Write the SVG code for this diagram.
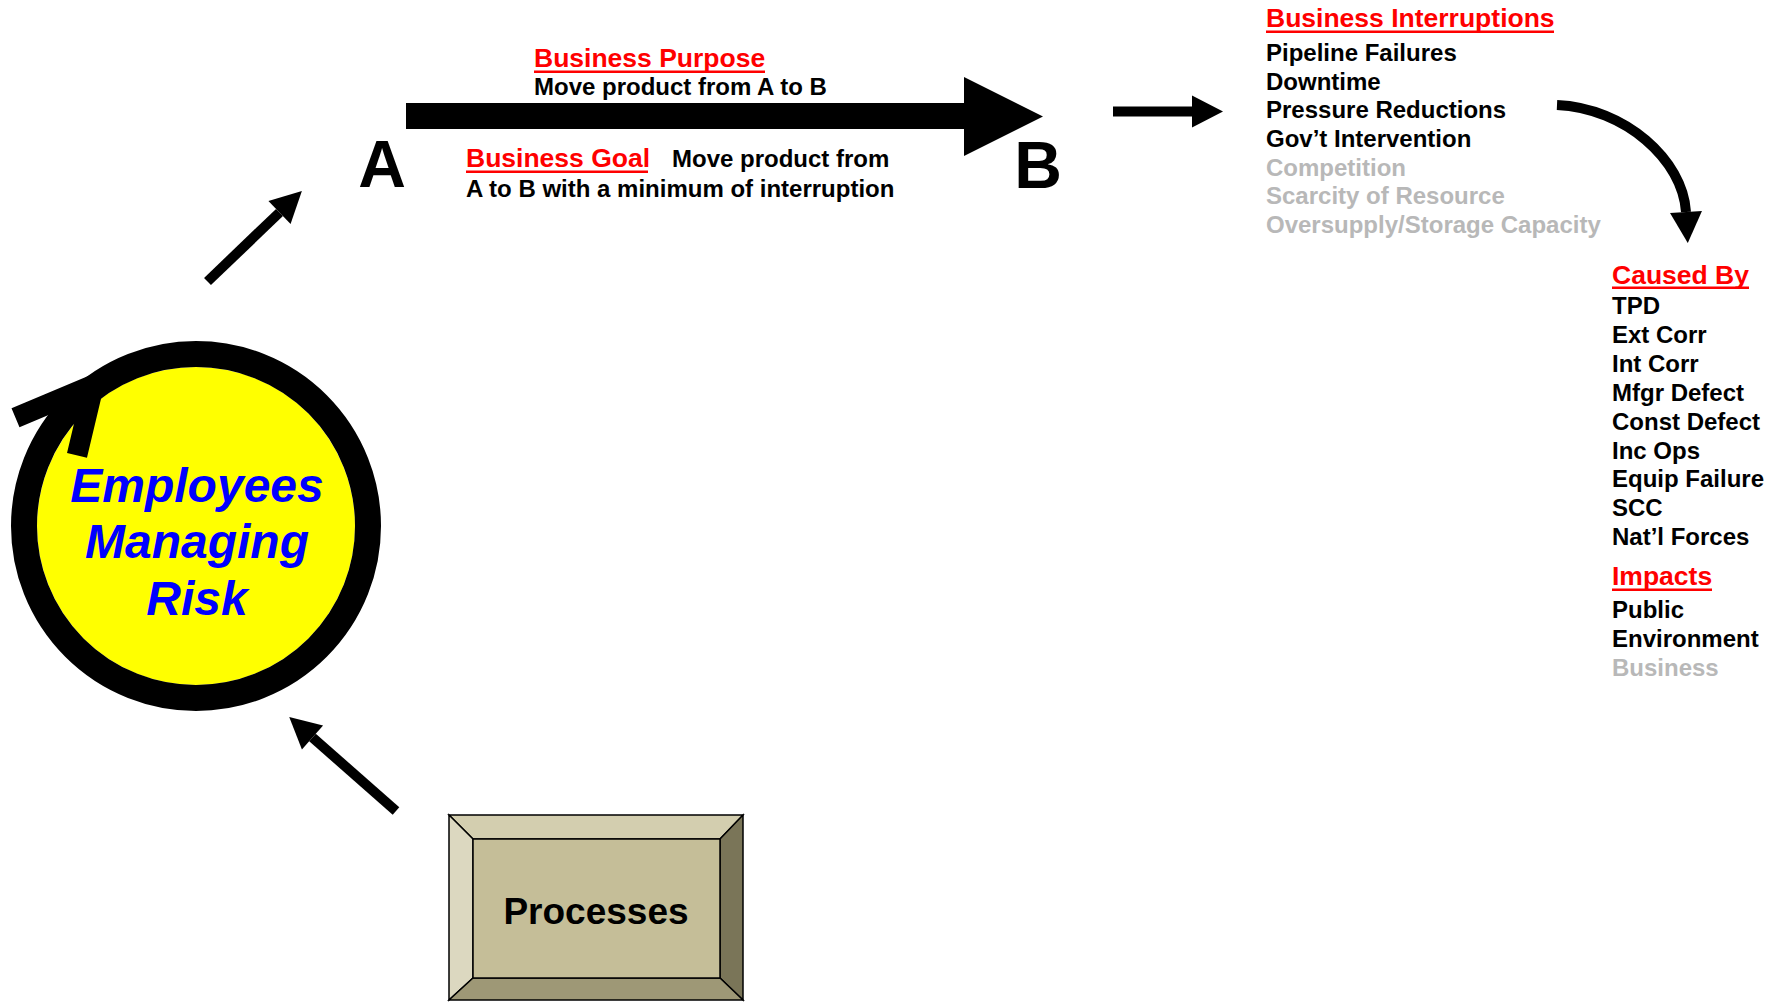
<svg xmlns="http://www.w3.org/2000/svg" width="1781" height="1002" viewBox="0 0 1781 1002">
  <style>
    text { font-family: "Liberation Sans", Arial, sans-serif; font-weight: bold; }
    .title { font-size: 26.5px; fill: #FF0000; }
    .body { font-size: 24px; fill: #000000; }
    .dim { fill: #B8B8B8; }
    .ul { fill: #FF0000; }
    .letter { font-size: 66px; fill: #000000; text-anchor: middle; }
    .risk { font-size: 48px; font-style: italic; fill: #0000FF; text-anchor: middle; }
    .arrow { fill: none; stroke: #000000; stroke-width: 10; marker-end: url(#head); }
    .bevel { stroke: #000000; stroke-width: 1.5; stroke-linejoin: miter; }
  </style>
  <defs>
    <marker id="head" markerUnits="userSpaceOnUse" markerWidth="32" markerHeight="32" refX="0" refY="16" orient="auto" overflow="visible">
      <path d="M0,0 L31,16 L0,32 Z" fill="#000000"/>
    </marker>
  </defs>

  <rect width="1781" height="1002" fill="#FFFFFF"/>

  <!-- circular arrow around the central node -->
  <g id="employees-managing-risk">
    <circle cx="196" cy="526" r="159" fill="#FFFF00"/>
    <circle cx="196" cy="526" r="172" fill="none" stroke="#000000" stroke-width="26"/>
    <polyline points="15.5,417.7 93.8,384.7 77,455.3" fill="none" stroke="#000000" stroke-width="20.5" stroke-linejoin="miter" stroke-miterlimit="4"/>
    <text class="risk" x="197" y="502">Employees</text>
    <text class="risk" x="197" y="558">Managing</text>
    <text class="risk" x="197" y="615">Risk</text>
  </g>

  <!-- bevelled button -->
  <g id="processes">
    <polygon class="bevel" points="449,815 743,815 720,839 473,839" fill="#D3CEAF"/>
    <polygon class="bevel" points="449,815 473,839 473,978 449,1000" fill="#DCD8C0"/>
    <polygon class="bevel" points="743,815 743,1000 720,978 720,839" fill="#7A7558"/>
    <polygon class="bevel" points="449,1000 743,1000 720,978 473,978" fill="#9E9876"/>
    <rect class="bevel" x="473" y="839" width="247" height="139" fill="#C5BE98"/>
    <text x="596" y="924" font-size="37" text-anchor="middle" fill="#000000">Processes</text>
  </g>

  <g id="point-a">
    <text class="letter" x="382" y="187">A</text>
  </g>

  <g id="point-b">
    <text class="letter" x="1038" y="188">B</text>
  </g>

  <g id="business-purpose">
    <text class="title" x="534" y="67">Business Purpose</text>
    <rect class="ul" x="534" y="70.5" width="231" height="2.5"/>
    <text class="body" x="534" y="95">Move product from A to B</text>
  </g>

  <g id="business-goal">
    <text class="title" x="466" y="167">Business Goal</text>
    <rect class="ul" x="466" y="170.5" width="182" height="2.5"/>
    <text class="body" x="672" y="167">Move product from</text>
    <text class="body" x="466" y="197">A to B with a minimum of interruption</text>
  </g>

  <g id="business-interruptions">
    <text class="title" x="1266" y="27">Business Interruptions</text>
    <rect class="ul" x="1266" y="30.5" width="288" height="2.5"/>
    <text class="body" x="1266" y="61">Pipeline Failures</text>
    <text class="body" x="1266" y="89.7">Downtime</text>
    <text class="body" x="1266" y="118.3">Pressure Reductions</text>
    <text class="body" x="1266" y="147">Gov’t Intervention</text>
    <text class="body dim" x="1266" y="175.7">Competition</text>
    <text class="body dim" x="1266" y="204.3">Scarcity of Resource</text>
    <text class="body dim" x="1266" y="233">Oversupply/Storage Capacity</text>
  </g>

  <g id="caused-by">
    <text class="title" x="1612" y="283.5">Caused By</text>
    <rect class="ul" x="1612" y="286.5" width="137" height="2.5"/>
    <text class="body" x="1612" y="314">TPD</text>
    <text class="body" x="1612" y="342.9">Ext Corr</text>
    <text class="body" x="1612" y="371.8">Int Corr</text>
    <text class="body" x="1612" y="400.7">Mfgr Defect</text>
    <text class="body" x="1612" y="429.6">Const Defect</text>
    <text class="body" x="1612" y="458.5">Inc Ops</text>
    <text class="body" x="1612" y="487.4">Equip Failure</text>
    <text class="body" x="1612" y="516.3">SCC</text>
    <text class="body" x="1612" y="545.2">Nat’l Forces</text>
  </g>

  <g id="impacts">
    <text class="title" x="1612" y="585">Impacts</text>
    <rect class="ul" x="1612" y="588.5" width="100" height="2.5"/>
    <text class="body" x="1612" y="617.5">Public</text>
    <text class="body" x="1612" y="646.5">Environment</text>
    <text class="body dim" x="1612" y="675.5">Business</text>
  </g>

  <g id="connectors">
    <!-- main flow A to B -->
    <polygon points="406,103 964,103 964,77 1043,116.5 964,156 964,129 406,129" fill="#000000"/>
    <!-- risk management feeds the flow -->
    <line class="arrow" x1="207.5" y1="281.5" x2="279.5" y2="212.5"/>
    <!-- processes feed the people -->
    <line class="arrow" x1="396" y1="811" x2="312.5" y2="737.5"/>
    <!-- B leads to interruptions -->
    <line class="arrow" x1="1113" y1="111.5" x2="1192" y2="111.5"/>
    <!-- interruptions to causes -->
    <path class="arrow" stroke-width="11" d="M1557,105 C1625,108 1683,160 1686,212"/>
  </g>
</svg>
